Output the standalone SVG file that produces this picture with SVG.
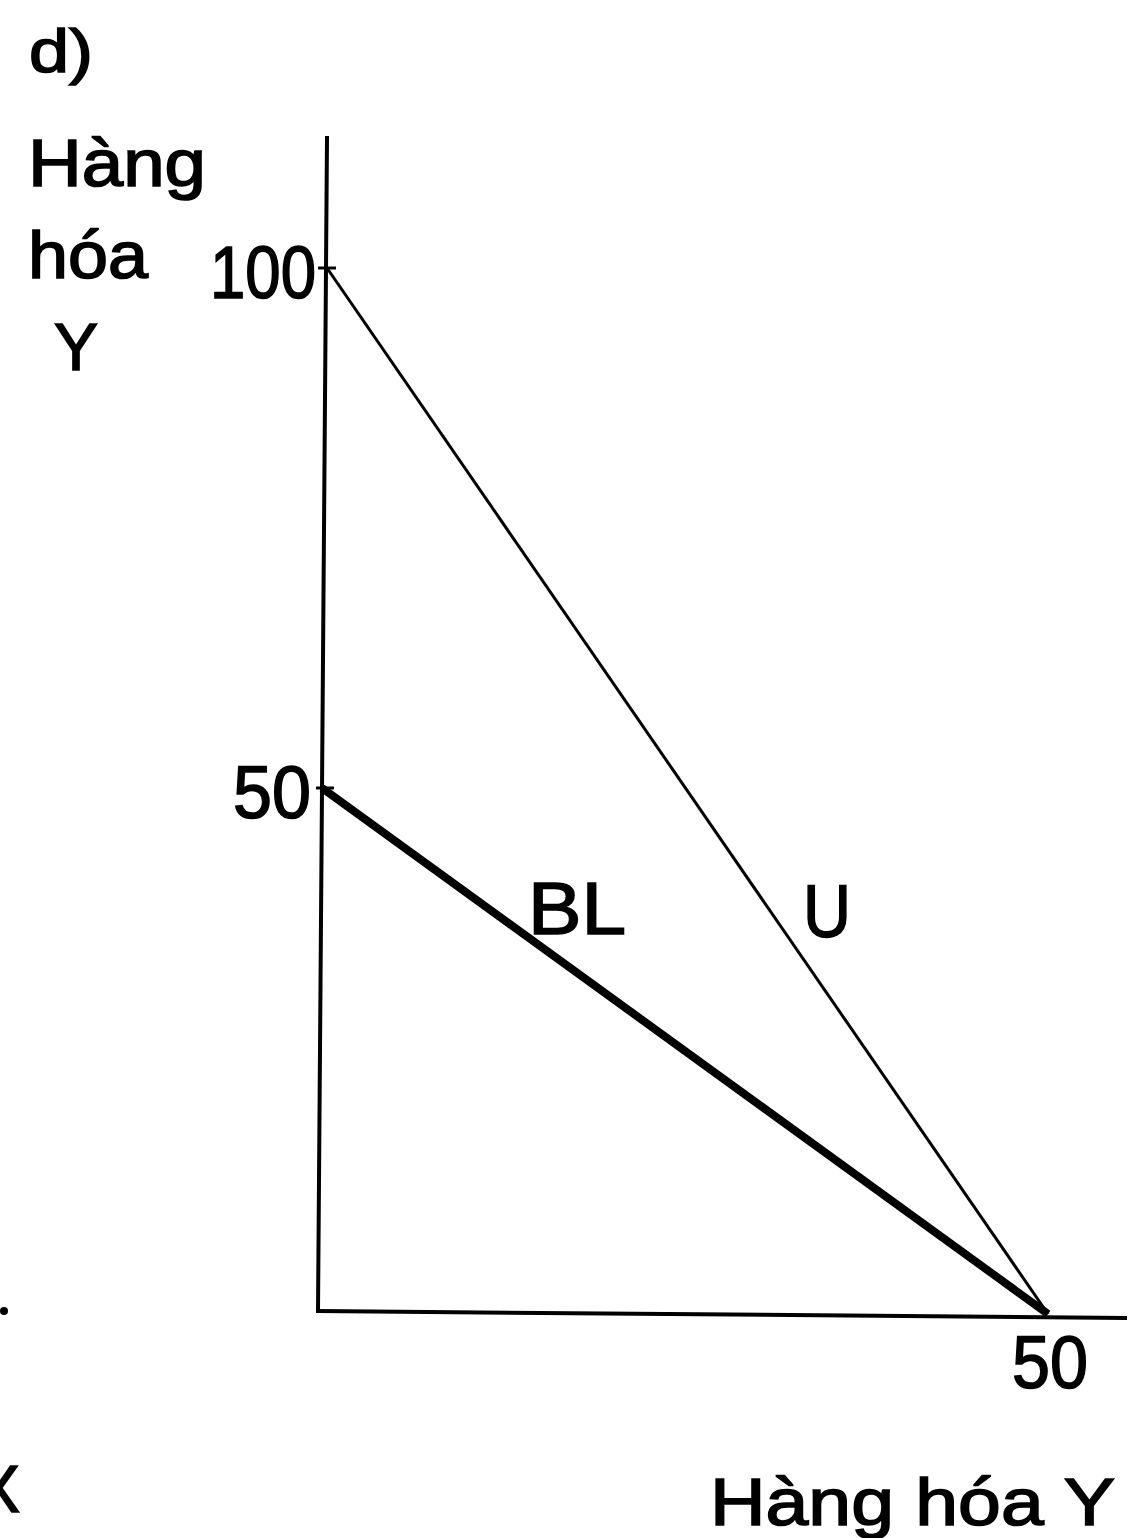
<svg xmlns="http://www.w3.org/2000/svg" width="1140" height="1538" viewBox="0 0 1140 1538">
<style>
.t{font-family:"Liberation Sans","DejaVu Sans",sans-serif;fill:#000;stroke:#000;stroke-width:1.6}
.ax{stroke:#000;stroke-width:4;fill:none;stroke-linecap:square}
</style>
<rect width="1140" height="1538" fill="#fff"/>
<g id="labels">
<text class="t" x="29" y="72" font-size="62" textLength="64" lengthAdjust="spacingAndGlyphs">d)</text>
<text class="t" x="28" y="186" font-size="66" textLength="178" lengthAdjust="spacingAndGlyphs">Hàng</text>
<text class="t" x="28" y="278" font-size="66" textLength="120" lengthAdjust="spacingAndGlyphs">hóa</text>
<text class="t" x="54" y="370" font-size="66">Y</text>
<text class="t" x="-24" y="1512" font-size="66">X</text>
</g>
<g id="axes">
<line class="ax" x1="327" y1="138" x2="318" y2="1311"/>
<line class="ax" x1="318" y1="1311" x2="1125" y2="1318"/>
<line x1="318" y1="268" x2="336" y2="268" stroke="#000" stroke-width="3"/>
<line x1="316" y1="788" x2="334" y2="788" stroke="#000" stroke-width="3"/>
<circle cx="4" cy="1311" r="4" fill="#000"/>
</g>
<g id="ticks">
<text class="t" x="210" y="298" font-size="74" textLength="106" lengthAdjust="spacingAndGlyphs">100</text>
<text class="t" x="233" y="818" font-size="74" textLength="78" lengthAdjust="spacingAndGlyphs">50</text>
<text class="t" x="1012" y="1388" font-size="74" textLength="76" lengthAdjust="spacingAndGlyphs">50</text>
</g>
<g id="connectors">
<line id="U-line" x1="327" y1="268" x2="1048" y2="1314" stroke="#000" stroke-width="3"/>
<line id="BL-line" x1="322" y1="788" x2="1048" y2="1314" stroke="#000" stroke-width="8"/>
</g>
<g id="curve-labels">
<text class="t" x="528" y="934" font-size="74" textLength="98" lengthAdjust="spacingAndGlyphs">BL</text>
<text class="t" x="803" y="937" font-size="74" textLength="48" lengthAdjust="spacingAndGlyphs">U</text>
</g>
<g id="x-title">
<text class="t" x="710" y="1525" font-size="66" textLength="405" lengthAdjust="spacingAndGlyphs">Hàng hóa Y</text>
</g>
</svg>
